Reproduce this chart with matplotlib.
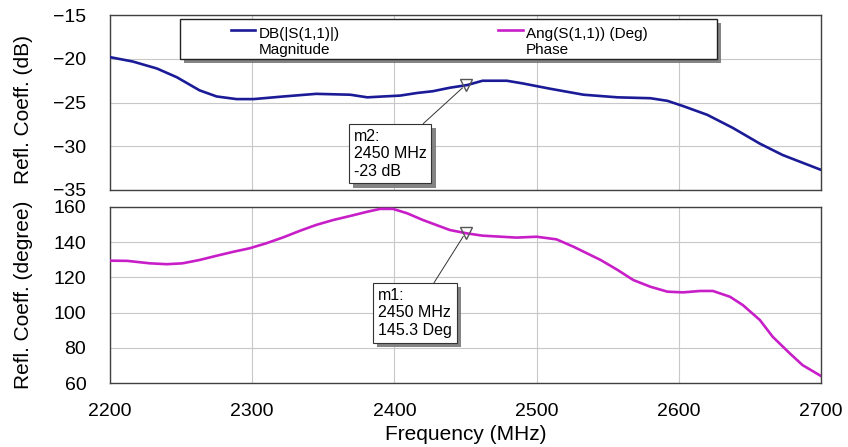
import matplotlib.pyplot as plt
import matplotlib.patheffects as pe
from matplotlib.patches import Rectangle
import numpy as np

plt.rcParams['font.family'] = ['Liberation Sans', 'DejaVu Sans']

# Magnitude trace
freq_mag = [2200, 2216, 2233, 2247, 2263, 2275, 2289, 2301, 2322, 2345, 2369, 2381,
            2392, 2404, 2416, 2427, 2439, 2451, 2462, 2479, 2490, 2509, 2533, 2557,
            2580, 2592, 2603, 2620, 2638, 2657, 2673, 2700]
mag_db = [-19.8, -20.3, -21.1, -22.1, -23.6, -24.3, -24.6, -24.6, -24.3, -24.0, -24.1, -24.4,
          -24.3, -24.2, -23.9, -23.7, -23.3, -23.0, -22.5, -22.5, -22.8, -23.4, -24.1, -24.4,
          -24.5, -24.8, -25.4, -26.4, -27.9, -29.7, -31.0, -32.7]

# Phase trace
freq_phase = [2200, 2212, 2228, 2240, 2251, 2263, 2275, 2287, 2298, 2310, 2322, 2334,
              2345, 2357, 2369, 2381, 2390, 2399, 2409, 2420, 2439, 2451, 2462, 2486,
              2500, 2514, 2526, 2545, 2557, 2568, 2580, 2592, 2603, 2615, 2624, 2636,
              2645, 2657, 2666, 2678, 2687, 2700]
phase_deg = [129.5, 129.4, 128.0, 127.5, 128.0, 129.9, 132.3, 134.6, 136.5, 139.4, 142.8, 146.6,
             149.8, 152.6, 154.9, 157.3, 158.9, 158.9, 156.4, 152.6, 146.9, 145.0, 143.7, 142.6,
             143.1, 141.6, 137.4, 129.9, 124.2, 118.5, 114.7, 111.9, 111.5, 112.3, 112.3, 109.0,
             104.3, 95.8, 86.3, 76.9, 70.2, 64.0]

freq_ticks = [2200, 2300, 2400, 2500, 2600, 2700]
mag_ticks = [-35, -30, -25, -20, -15]
phase_ticks = [60, 80, 100, 120, 140, 160]

marker_freq = 2450
marker_db = -23
marker_deg = 145.3

blue = '#1b1b98'
magenta = '#c81ec8'

fig = plt.figure(figsize=(8.48, 4.47), dpi=100)
ax1 = fig.add_axes([0.1297, 0.575, 0.8385, 0.391])
ax2 = fig.add_axes([0.1297, 0.143, 0.8385, 0.394])

line_mag, = ax1.plot(freq_mag, mag_db, color=blue, lw=1.9, zorder=3)
line_ph, = ax2.plot(freq_phase, phase_deg, color=magenta, lw=1.9, zorder=3)

for ax in (ax1, ax2):
    ax.set_xlim(2200, 2700)
    ax.set_xticks(freq_ticks)
    ax.grid(True, color='#c8c8c8', lw=0.8)
    ax.set_axisbelow(True)
    ax.tick_params(length=0, labelsize=14)
    ax.tick_params(axis='y', pad=17)
    ax.tick_params(axis='x', pad=14)
    for s in ax.spines.values():
        s.set_color('#404040')
        s.set_linewidth(1.0)

ax1.set_ylim(-35, -15)
ax1.set_yticks(mag_ticks)
ax1.tick_params(axis='x', labelbottom=False)
ax2.set_ylim(60, 160)
ax2.set_yticks(phase_ticks)

ax1.set_ylabel('Refl. Coeff. (dB)', fontsize=15)
ax2.set_ylabel('Refl. Coeff. (degree)', fontsize=15)
ax1.yaxis.set_label_coords(-0.108, 0.46)
ax2.yaxis.set_label_coords(-0.108, 0.5)
ax2.set_xlabel('Frequency (MHz)', fontsize=15, labelpad=4)

# markers
ax1.plot([marker_freq], [marker_db], marker='v', mfc='none', mec='#555555', ms=8, zorder=4)
ax2.plot([marker_freq], [marker_deg], marker='v', mfc='none', mec='#555555', ms=8, zorder=4)

shadow = [pe.SimplePatchShadow(offset=(3, -3), shadow_rgbFace='#777777', alpha=0.9), pe.Normal()]

a1 = ax1.annotate('m2:\n%d MHz\n%d dB' % (marker_freq, marker_db),
                  xy=(marker_freq, marker_db), xytext=(2371.5, -28.0),
                  ha='left', va='top', fontsize=11.5, zorder=6,
                  bbox=dict(boxstyle='square,pad=0.3', fc='white', ec='#333333', lw=0.8),
                  arrowprops=dict(arrowstyle='-', color='#333333', lw=0.7, shrinkA=0, shrinkB=3))
a1.get_bbox_patch().set_path_effects(shadow)

a2 = ax2.annotate('m1:\n%d MHz\n%.1f Deg' % (marker_freq, marker_deg),
                  xy=(marker_freq, marker_deg), xytext=(2388.5, 114.0),
                  ha='left', va='top', fontsize=11.5, zorder=6,
                  bbox=dict(boxstyle='square,pad=0.3', fc='white', ec='#333333', lw=0.8),
                  arrowprops=dict(arrowstyle='-', color='#333333', lw=0.7, shrinkA=0, shrinkB=3))
a2.get_bbox_patch().set_path_effects(shadow)

# legend box shared by both traces
box = Rectangle((0.0985, 0.749), 0.7555, 0.228, transform=ax1.transAxes,
                fc='white', ec='#222222', lw=1.0, zorder=4, clip_on=False)
box.set_path_effects([pe.SimplePatchShadow(offset=(3, -3), shadow_rgbFace='#777777', alpha=0.9),
                      pe.Normal()])
ax1.add_patch(box)

leg_fs = 11
leg_kw = dict(loc='upper left', frameon=False, fontsize=leg_fs, handlelength=1.6,
              handletextpad=0.2, borderpad=0, borderaxespad=0)
leg1 = ax1.legend([line_mag], ['DB(|S(1,1)|)\nMagnitude'], bbox_to_anchor=(0.170, 0.935), **leg_kw)
ax1.add_artist(leg1)
leg2 = ax1.legend([line_ph], ['Ang(S(1,1)) (Deg)\nPhase'], bbox_to_anchor=(0.546, 0.935), **leg_kw)
for leg in (leg1, leg2):
    leg.set_zorder(5)
    for ln in leg.get_lines():
        ln.set_ydata(np.asarray(ln.get_ydata()) + 0.75 * leg_fs)

fig.savefig('out.png', dpi=100)
